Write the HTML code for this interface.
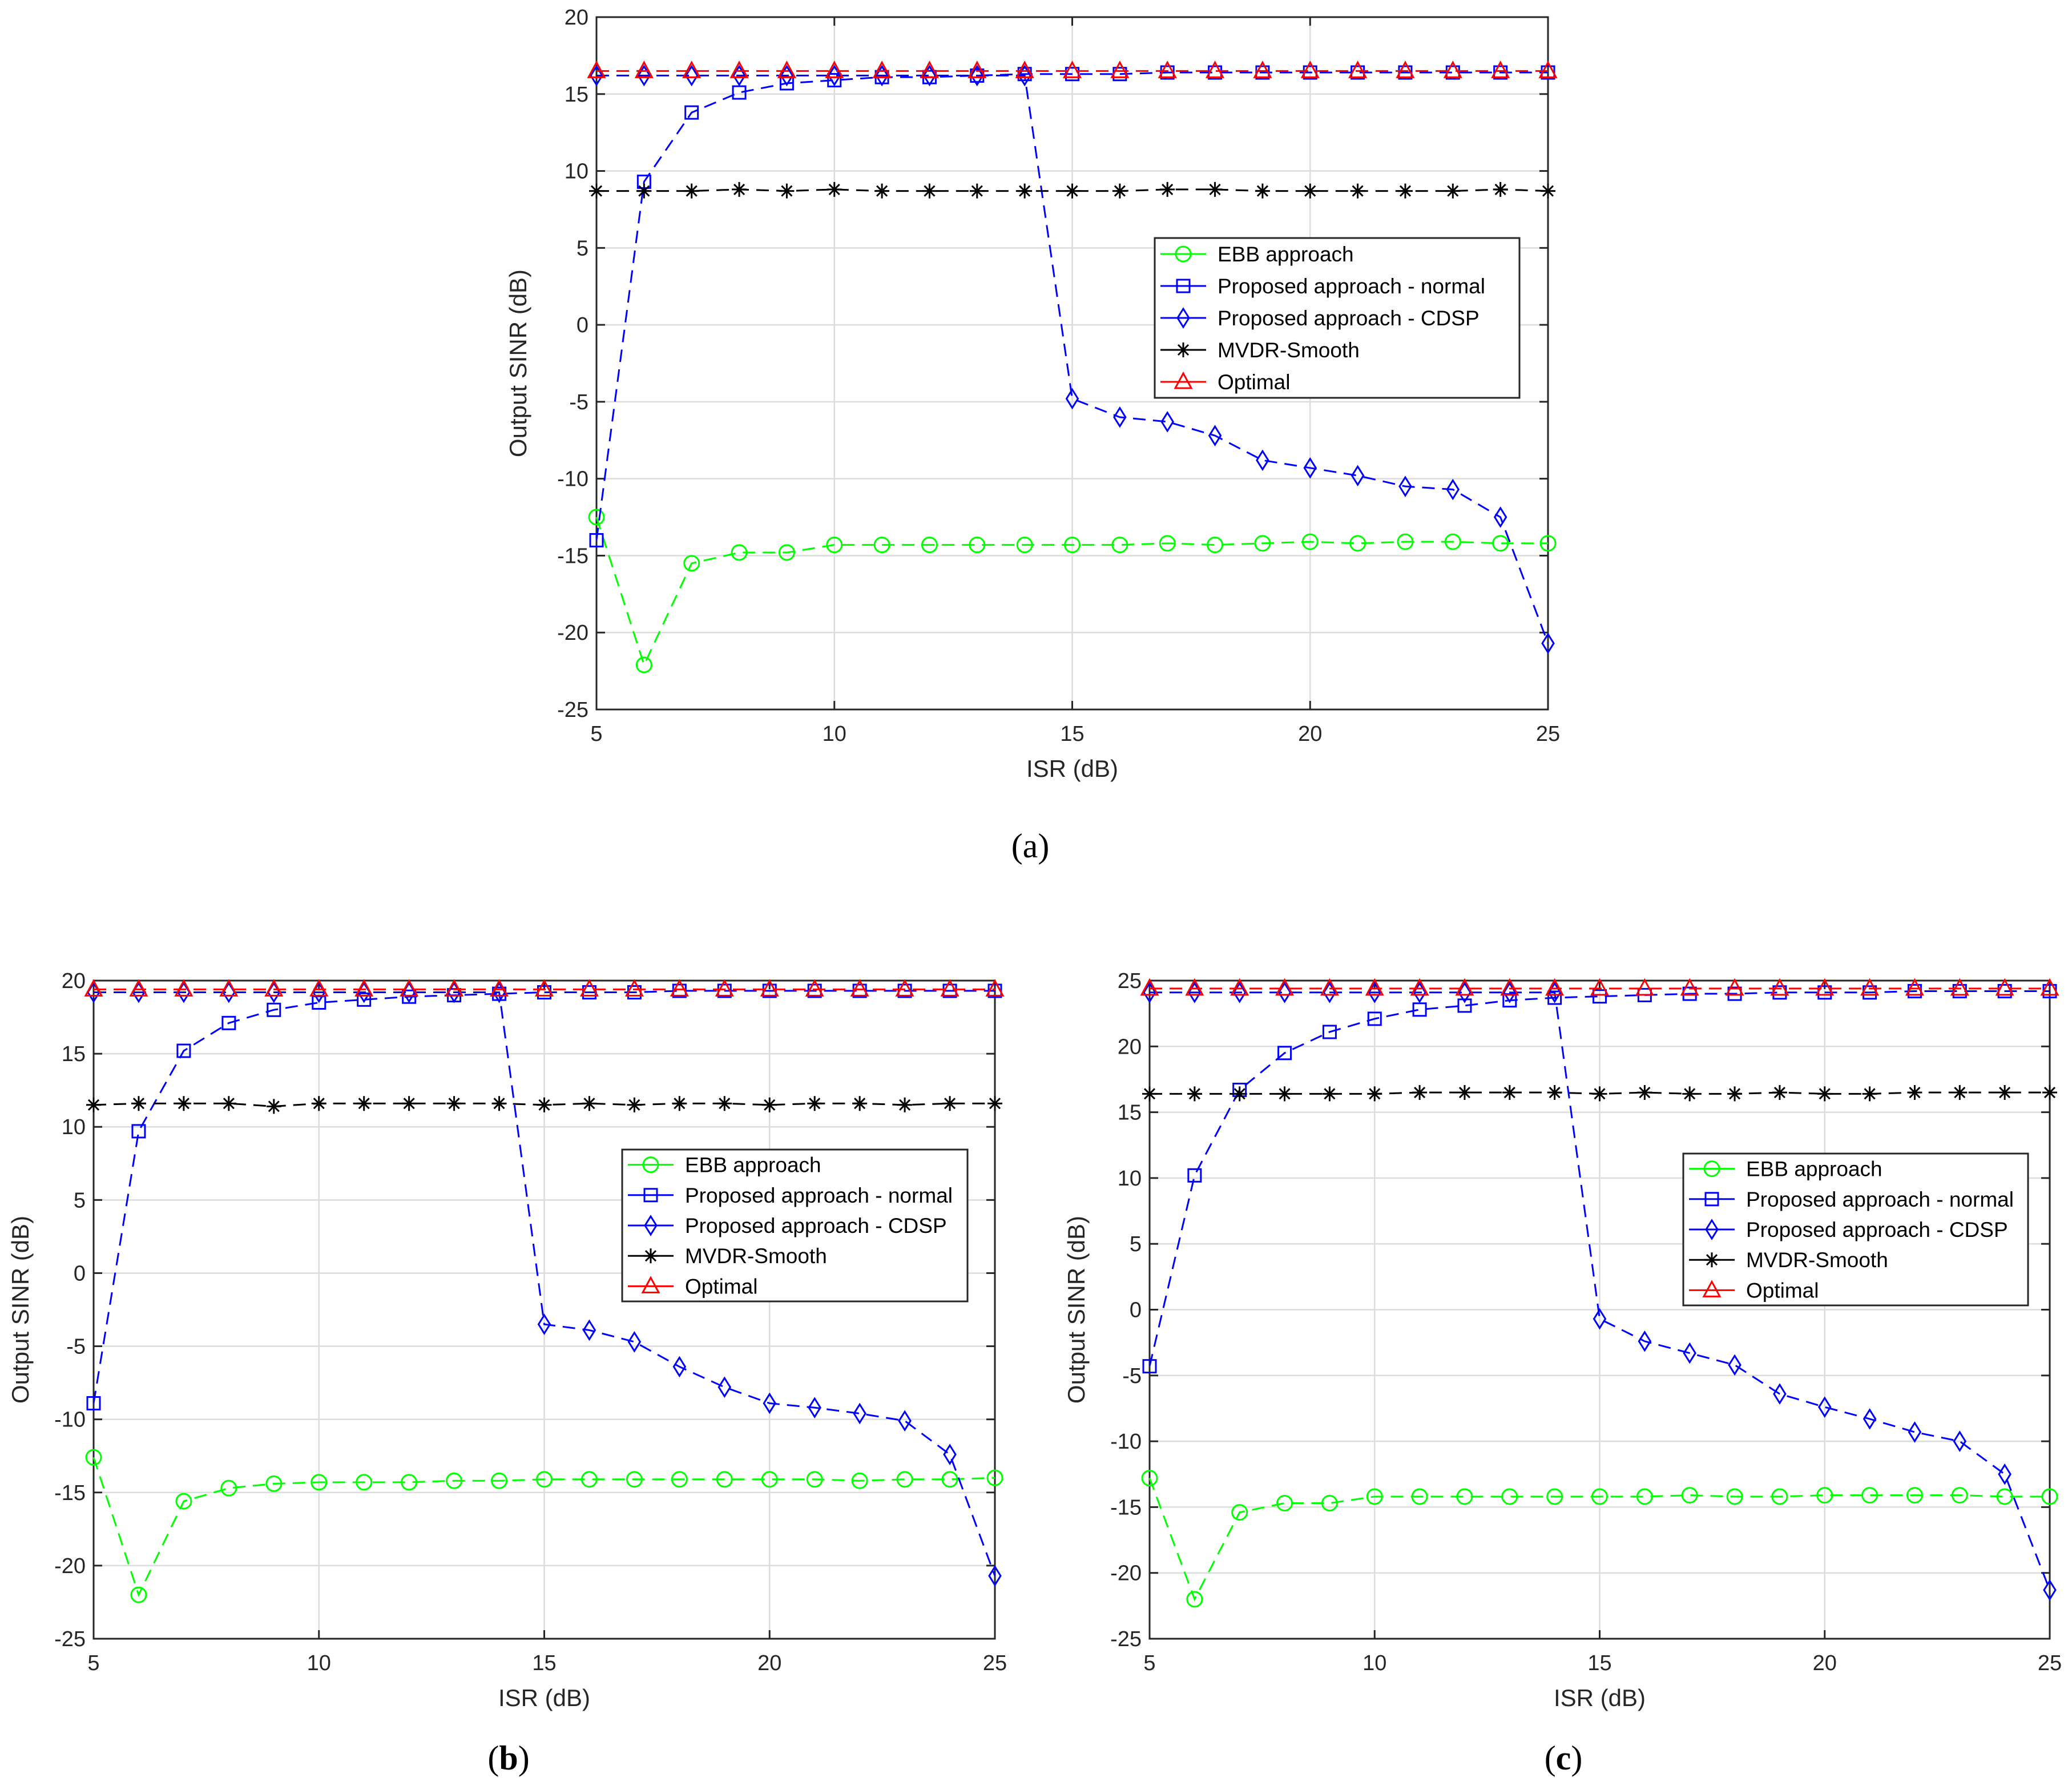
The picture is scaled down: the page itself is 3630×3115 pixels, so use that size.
<!DOCTYPE html>
<html><head><meta charset="utf-8"><style>
html,body{margin:0;padding:0;background:#fff}
svg{display:block}
text{font-family:"Liberation Sans",sans-serif}
</style></head><body>
<svg id="svg" width="3630" height="3115" viewBox="0 0 3630 3115" xmlns="http://www.w3.org/2000/svg">
<rect width="3630" height="3115" fill="#fff"/>
</svg>
<script>
const xs=[5,6,7,8,9,10,11,12,13,14,15,16,17,18,19,20,21,22,23,24,25];
const xTicks=[5,10,15,20,25];
const yTicksA=[-25,-20,-15,-10,-5,0,5,10,15,20];
const yTicksC=[-25,-20,-15,-10,-5,0,5,10,15,20,25];
const seriesNames=["EBB approach","Proposed approach - normal","Proposed approach - CDSP","MVDR-Smooth","Optimal"];
const ebbA=[-12.5,-22.1,-15.5,-14.8,-14.8,-14.3,-14.3,-14.3,-14.3,-14.3,-14.3,-14.3,-14.2,-14.3,-14.2,-14.1,-14.2,-14.1,-14.1,-14.2,-14.2];
const normA=[-14,9.3,13.8,15.1,15.7,15.9,16.1,16.1,16.2,16.3,16.3,16.3,16.4,16.4,16.4,16.4,16.4,16.4,16.4,16.4,16.4];
const cdspA=[16.2,16.2,16.2,16.2,16.2,16.2,16.2,16.2,16.2,16.2,-4.8,-6.0,-6.3,-7.2,-8.8,-9.3,-9.8,-10.5,-10.7,-12.5,-20.7];
const mvdrA=[8.7,8.7,8.7,8.8,8.7,8.8,8.7,8.7,8.7,8.7,8.7,8.7,8.8,8.8,8.7,8.7,8.7,8.7,8.7,8.8,8.7];
const optA=[16.5,16.5,16.5,16.5,16.5,16.5,16.5,16.5,16.5,16.5,16.5,16.5,16.5,16.5,16.5,16.5,16.5,16.5,16.5,16.5,16.5];
const ebbB=[-12.6,-22,-15.6,-14.7,-14.4,-14.3,-14.3,-14.3,-14.2,-14.2,-14.1,-14.1,-14.1,-14.1,-14.1,-14.1,-14.1,-14.2,-14.1,-14.1,-14.0];
const normB=[-8.9,9.7,15.2,17.1,18.0,18.5,18.7,18.9,19.0,19.1,19.2,19.2,19.2,19.3,19.3,19.3,19.3,19.3,19.3,19.3,19.3];
const cdspB=[19.2,19.2,19.2,19.2,19.2,19.2,19.2,19.2,19.2,19.2,-3.5,-3.9,-4.7,-6.4,-7.8,-8.9,-9.2,-9.6,-10.1,-12.4,-20.7];
const mvdrB=[11.5,11.6,11.6,11.6,11.4,11.6,11.6,11.6,11.6,11.6,11.5,11.6,11.5,11.6,11.6,11.5,11.6,11.6,11.5,11.6,11.6];
const optB=[19.4,19.4,19.4,19.4,19.4,19.4,19.4,19.4,19.4,19.4,19.4,19.4,19.4,19.4,19.4,19.4,19.4,19.4,19.4,19.4,19.4];
const ebbC=[-12.8,-22,-15.4,-14.7,-14.7,-14.2,-14.2,-14.2,-14.2,-14.2,-14.2,-14.2,-14.1,-14.2,-14.2,-14.1,-14.1,-14.1,-14.1,-14.2,-14.2];
const normC=[-4.3,10.2,16.7,19.5,21.1,22.1,22.8,23.1,23.5,23.7,23.8,23.9,24.0,24.0,24.1,24.1,24.1,24.2,24.2,24.2,24.2];
const cdspC=[24.1,24.1,24.1,24.1,24.1,24.1,24.1,24.1,24.1,24.1,-0.7,-2.4,-3.3,-4.2,-6.4,-7.4,-8.3,-9.3,-10.0,-12.5,-21.3];
const mvdrC=[16.4,16.4,16.4,16.4,16.4,16.4,16.5,16.5,16.5,16.5,16.4,16.5,16.4,16.4,16.5,16.4,16.4,16.5,16.5,16.5,16.5];
const optC=[24.4,24.4,24.4,24.4,24.4,24.4,24.4,24.4,24.4,24.4,24.4,24.4,24.4,24.4,24.4,24.4,24.4,24.4,24.4,24.4,24.4];

const NS="http://www.w3.org/2000/svg";
const svg=document.getElementById('svg');
function mk(tag,attrs,parent){const e=document.createElementNS(NS,tag);for(const k in attrs)e.setAttribute(k,attrs[k]);(parent||svg).appendChild(e);return e;}
const colors=["#00ff00","#0000ff","#0000ff","#000000","#ff0000"];
const markers=["circle","square","diamond","star","triangle"];
function marker(g,type,x,y,c){
  const s=13;let e;
  if(type==="circle")e=mk('circle',{cx:x,cy:y,r:s,fill:'none',stroke:c,'stroke-width':3},g);
  else if(type==="square")e=mk('rect',{x:x-s+2,y:y-s+2,width:2*s-4,height:2*s-4,fill:'none',stroke:c,'stroke-width':3},g);
  else if(type==="diamond")e=mk('polygon',{points:`${x},${y-s-3} ${x+s-3},${y} ${x},${y+s+3} ${x-s+3},${y}`,fill:'none',stroke:c,'stroke-width':3},g);
  else if(type==="triangle")e=mk('polygon',{points:`${x},${y-s-2} ${x+s+1},${y+s-2} ${x-s-1},${y+s-2}`,fill:'none',stroke:c,'stroke-width':3},g);
  else {e=mk('path',{d:`M${x-s},${y}H${x+s}M${x},${y-s}V${y+s}M${x-9},${y-9}L${x+9},${y+9}M${x-9},${y+9}L${x+9},${y-9}`,stroke:c,'stroke-width':3,fill:'none'},g);}
  
  
}
function chart(id,L,R,T,B,ymin,ymax,yTicks,data,leg,ylabX){
  const g=mk('g',{});
  
  
  const X=v=>L+(v-5)/20*(R-L), Y=v=>B-(v-ymin)/(ymax-ymin)*(B-T);
  for(const t of xTicks){const l=mk('line',{x1:X(t),x2:X(t),y1:T,y2:B,stroke:'#dcdcdc','stroke-width':2.5},g);}
  for(const t of yTicks){const l=mk('line',{x1:L,x2:R,y1:Y(t),y2:Y(t),stroke:'#dcdcdc','stroke-width':2.5},g);}
  const fr=mk('rect',{x:L,y:T,width:R-L,height:B-T,fill:'none',stroke:'#262626','stroke-width':3},g);
  
  for(const t of xTicks){
    mk('line',{x1:X(t),x2:X(t),y1:B,y2:B-15,stroke:'#262626','stroke-width':3},g);mk('line',{x1:X(t),x2:X(t),y1:T,y2:T+15,stroke:'#262626','stroke-width':3},g);
    const tx=mk('text',{x:X(t),y:B+55,'font-size':38,'text-anchor':'middle',fill:'#262626'},g);tx.textContent=t;
    
  }
  for(const t of yTicks){
    mk('line',{x1:L,x2:L+15,y1:Y(t),y2:Y(t),stroke:'#262626','stroke-width':3},g);mk('line',{x1:R,x2:R-15,y1:Y(t),y2:Y(t),stroke:'#262626','stroke-width':3},g);
    const tx=mk('text',{x:L-14,y:Y(t)+13,'font-size':38,'text-anchor':'end',fill:'#262626'},g);tx.textContent=t;
    
  }
  const xl=mk('text',{x:(L+R)/2,y:B+118,'font-size':42,'text-anchor':'middle',fill:'#262626'},g);xl.textContent='ISR (dB)';
  
  const yl=mk('text',{x:ylabX,y:(T+B)/2,'font-size':42,'text-anchor':'middle',fill:'#262626',transform:`rotate(-90 ${ylabX} ${(T+B)/2})`},g);yl.textContent='Output SINR (dB)';
  
  data.forEach((arr,i)=>{
    const sg=mk('g',{},g);
    
    mk('polyline',{points:arr.map((v,j)=>X(xs[j])+','+Y(v)).join(' '),fill:'none',stroke:colors[i],'stroke-width':3,'stroke-dasharray':'22,13'},sg);
    arr.forEach((v,j)=>marker(sg,markers[i],X(xs[j]),Y(v),colors[i]));
  });
  const [lx,ly,lw,lh]=leg;
  const lg=mk('g',{},g);
  mk('rect',{x:lx,y:ly,width:lw,height:lh,fill:'#fff',stroke:'#262626','stroke-width':3},lg);
  const step=lh/5;
  seriesNames.forEach((n,i)=>{
    const cy=ly+step*(i+0.5);
    const eg=mk('g',{},lg);
    mk('line',{x1:lx+10,x2:lx+90,y1:cy,y2:cy,stroke:colors[i],'stroke-width':3},eg);
    marker(eg,markers[i],lx+50,cy,colors[i]);
    const t=mk('text',{x:lx+110,y:cy+13,'font-size':37,fill:'#000'},eg);t.textContent=n;
  });
}
chart('a',1045,2712,30,1243,-25,20,yTicksA,[ebbA,normA,cdspA,mvdrA,optA],[2023,417,639,280],922);
chart('b',164,1743,1718,2871,-25,20,yTicksA,[ebbB,normB,cdspB,mvdrB,optB],[1090,2014,605,266],50);
chart('c',2014,3591,1718,2871,-25,25,yTicksC,[ebbC,normC,cdspC,mvdrC,optC],[2949,2021,604,266],1900);
[['a',1805,1502,false],['b',891,3100,true],['c',2739,3100,true]].forEach(([s,x,y,b])=>{
  const t=mk('text',{x:x,y:y,'font-size':60,'text-anchor':'middle',fill:'#000'});
  t.setAttribute('style','font-family:"Liberation Serif",serif');
  
  
  const p1=mk('tspan',{},t);p1.textContent='(';
  const p2=mk('tspan',{},t);p2.textContent=s;if(b)p2.setAttribute('font-weight','bold');
  const p3=mk('tspan',{},t);p3.textContent=')';
});
</script>
</body></html>
